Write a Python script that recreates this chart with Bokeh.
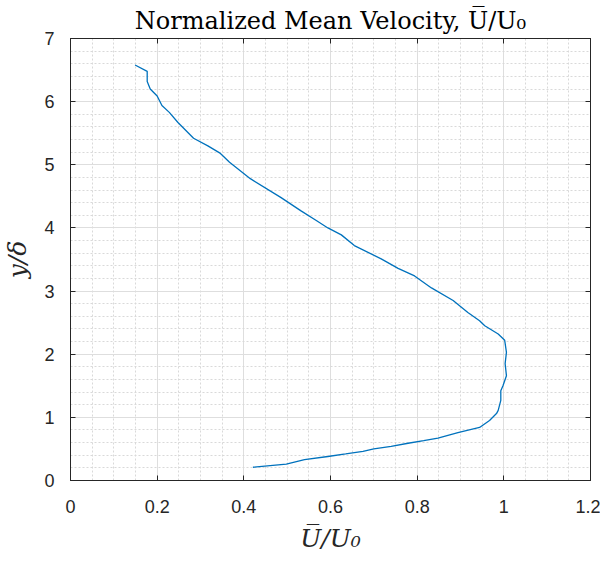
from bokeh.plotting import figure
from bokeh.models import LinearAxis, FixedTicker, Range1d
from bokeh.embed import file_html
from bokeh.resources import INLINE

# Data (y/delta ascending)
y_delta = [0.21, 0.26, 0.33, 0.38, 0.42, 0.46, 0.50, 0.54, 0.59, 0.63, 0.67, 0.76,
           0.84, 0.95, 1.06, 1.11, 1.27, 1.42, 1.50, 1.66, 1.85, 2.03, 2.22, 2.32,
           2.45, 2.53, 2.66, 2.85, 3.05, 3.24, 3.36, 3.51, 3.72, 3.89, 4.00, 4.11,
           4.27, 4.48, 4.78, 5.04, 5.18, 5.30, 5.42, 5.67, 5.83, 5.94, 6.09, 6.20,
           6.32, 6.48, 6.58]
u_norm = [0.421, 0.498, 0.540, 0.594, 0.635, 0.675, 0.700, 0.740, 0.779, 0.815, 0.848, 0.894,
          0.944, 0.967, 0.983, 0.987, 0.993, 0.993, 0.998, 1.006, 1.003, 1.006, 1.002, 0.987,
          0.956, 0.944, 0.917, 0.883, 0.833, 0.794, 0.756, 0.717, 0.655, 0.625, 0.594, 0.569,
          0.532, 0.486, 0.415, 0.367, 0.346, 0.317, 0.284, 0.248, 0.228, 0.211, 0.200, 0.184,
          0.177, 0.177, 0.149]

x_ticks = [0, 0.2, 0.4, 0.6, 0.8, 1.0, 1.2]
x_minor = [round(i * 0.05, 2) for i in range(25)]
y_ticks = [0, 1, 2, 3, 4, 5, 6, 7]
y_minor = [round(i * 0.2, 1) for i in range(36)]

title_text = "Normalized Mean Velocity, U\u0305/U\u2080"
x_label = "U\u0305/U\u2080"
y_label = "y/\u03b4"

AX = "#262626"
SERIF = "DejaVu Serif"
SANS = "Liberation Sans"

p = figure(frame_width=520, frame_height=442, x_range=Range1d(0, 1.2), y_range=Range1d(0, 7),
           output_backend="svg", toolbar_location=None,
           min_border_left=62, min_border_right=10, min_border_top=38, min_border_bottom=65,
           x_axis_location=None, y_axis_location=None)
p.background_fill_color = "white"
p.border_fill_color = "white"
p.outline_line_color = AX
p.outline_line_width = 1

p.title.text = title_text
p.title.text_font = SERIF
p.title.text_font_style = "normal"
p.title.text_font_size = "24px"
p.title.align = "center"
p.title.text_color = "black"
p.title.standoff = 0
p.title.offset = 0

xt = FixedTicker(ticks=x_ticks, minor_ticks=x_minor)
yt = FixedTicker(ticks=y_ticks, minor_ticks=y_minor)

def style_axis(ax, show_labels):
    ax.axis_line_color = AX
    ax.major_tick_line_color = AX
    ax.major_tick_in = 5
    ax.major_tick_out = 0
    ax.minor_tick_line_color = None
    if show_labels:
        ax.major_label_text_font = SANS
        ax.major_label_text_font_size = "18px"
        ax.major_label_text_color = AX
    else:
        ax.major_label_text_font_size = "1px"
        ax.major_label_text_color = None
        ax.major_label_standoff = 0

xb = LinearAxis(ticker=xt, axis_label=x_label)
style_axis(xb, True)
xb.major_label_overrides = {0: "0", 1: "1"}
xb.major_label_standoff = 15
xb.axis_label_text_font = SERIF
xb.axis_label_text_font_style = "italic"
xb.axis_label_text_font_size = "25px"
xb.axis_label_text_color = AX
xb.axis_label_standoff = 8
p.add_layout(xb, "below")

yl = LinearAxis(ticker=yt, axis_label=y_label)
style_axis(yl, True)
yl.major_label_standoff = 12
yl.axis_label_text_font = SERIF
yl.axis_label_text_font_style = "italic"
yl.axis_label_text_font_size = "25px"
yl.axis_label_text_color = AX
yl.axis_label_standoff = 9
p.add_layout(yl, "left")

xa = LinearAxis(ticker=xt)
style_axis(xa, False)
p.add_layout(xa, "above")

yr = LinearAxis(ticker=yt)
style_axis(yr, False)
p.add_layout(yr, "right")

p.xgrid.ticker = xt
p.ygrid.ticker = yt
for g in (p.xgrid, p.ygrid):
    g.grid_line_color = "#dedede"
    g.grid_line_width = 1
    g.minor_grid_line_color = "#d9d9d9"
    g.minor_grid_line_dash = "2 2"
    g.minor_grid_line_width = 1

p.line(u_norm, y_delta, line_color="#0072BD", line_width=1.3)

open("out.html", "w").write(file_html(p, INLINE))
